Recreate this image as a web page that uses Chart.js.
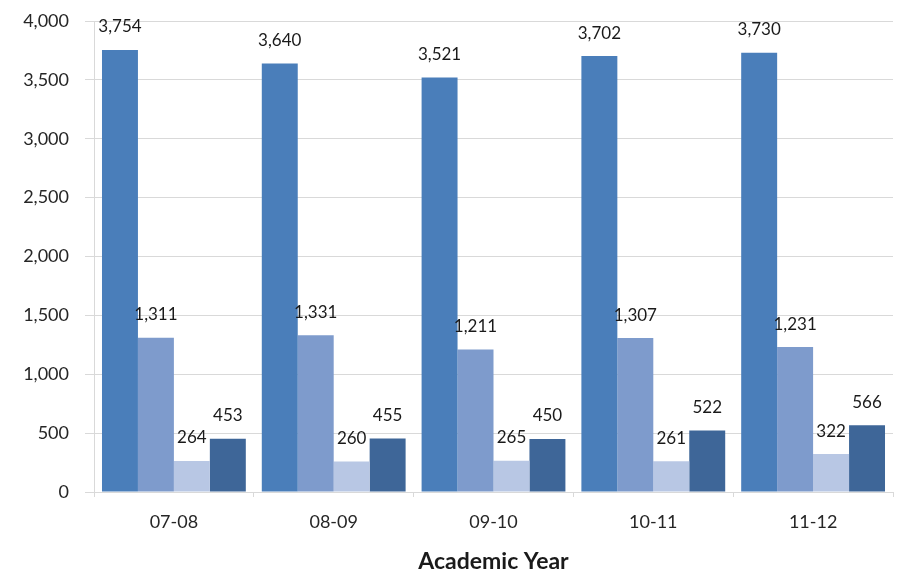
<!DOCTYPE html>
<html>
<head>
<meta charset="utf-8">
<script src="https://cdn.jsdelivr.net/npm/chart.js@4/dist/chart.umd.min.js"></script>
<style>
html,body{margin:0;padding:0;background:#fff;}
#wrap{width:897px;height:575px;position:relative;}
</style>
</head>
<body>
<div id="wrap"><canvas id="c" width="897" height="575"></canvas></div>
<script>
const categories = ["07-08", "08-09", "09-10", "10-11", "11-12"];
const seriesA = [3754, 3640, 3521, 3702, 3730];
const seriesB = [1311, 1331, 1211, 1307, 1231];
const seriesC = [264, 260, 265, 261, 322];
const seriesD = [453, 455, 450, 522, 566];
const seriesColors = ["#4a7eba", "#7e9bcc", "#b8c7e4", "#3e6698"];
const yTicks = [0, 500, 1000, 1500, 2000, 2500, 3000, 3500, 4000];
const axisTitle = "Academic Year";

const fontFamily = "Lato, 'Open Sans', 'Liberation Sans', sans-serif";

const labelPlugin = {
  id: 'barLabels',
  afterDatasetsDraw(chart) {
    const ctx = chart.ctx;
    ctx.save();
    ctx.font = "17px " + fontFamily;
    ctx.fillStyle = "#1a1a1a";
    ctx.textAlign = "center";
    ctx.textBaseline = "middle";
    chart.data.datasets.forEach((ds, i) => {
      const meta = chart.getDatasetMeta(i);
      meta.data.forEach((bar, j) => {
        const v = ds.data[j];
        ctx.fillText(v.toLocaleString('en-US'), bar.x, bar.y - 23);
      });
    });
    ctx.restore();
  }
};

const mk = (data, k) => ({
  data: data,
  backgroundColor: seriesColors[k],
  borderWidth: 0,
  categoryPercentage: 0.9,
  barPercentage: 1.0
});

new Chart(document.getElementById('c'), {
  type: 'bar',
  data: {
    labels: categories,
    datasets: [mk(seriesA, 0), mk(seriesB, 1), mk(seriesC, 2), mk(seriesD, 3)]
  },
  options: {
    responsive: false,
    animation: false,
    layout: { padding: { top: 21, right: 4, left: 0, bottom: 0 } },
    plugins: { legend: { display: false }, tooltip: { enabled: false } },
    scales: {
      x: {
        grid: { offset: true, drawOnChartArea: false, tickLength: 5, color: "#d9d9d9" },
        border: { display: false },
        ticks: { font: { family: fontFamily, size: 18 }, color: "#262626", padding: 14 },
        title: { display: true, text: axisTitle, font: { family: fontFamily, size: 23, weight: 'bold' }, color: "#1a1a1a", padding: { top: 0, bottom: 0 } },
        afterFit(s) { s.height = 83; s.paddingLeft = 0; s.paddingRight = 0; }
      },
      y: {
        min: 0, max: 4000,
        afterBuildTicks(s) { s.ticks = yTicks.map(v => ({ value: v })); },
        grid: { color: "#d9d9d9", tickLength: 9, lineWidth: 1 },
        border: { color: "#d9d9d9" },
        ticks: { font: { family: fontFamily, size: 18 }, color: "#262626", padding: 16,
                 callback: v => v.toLocaleString('en-US') },
        afterFit(s) { s.width = 94; s.paddingTop = 0; s.paddingBottom = 0; }
      }
    }
  },
  plugins: [labelPlugin]
});
</script>
</body>
</html>
